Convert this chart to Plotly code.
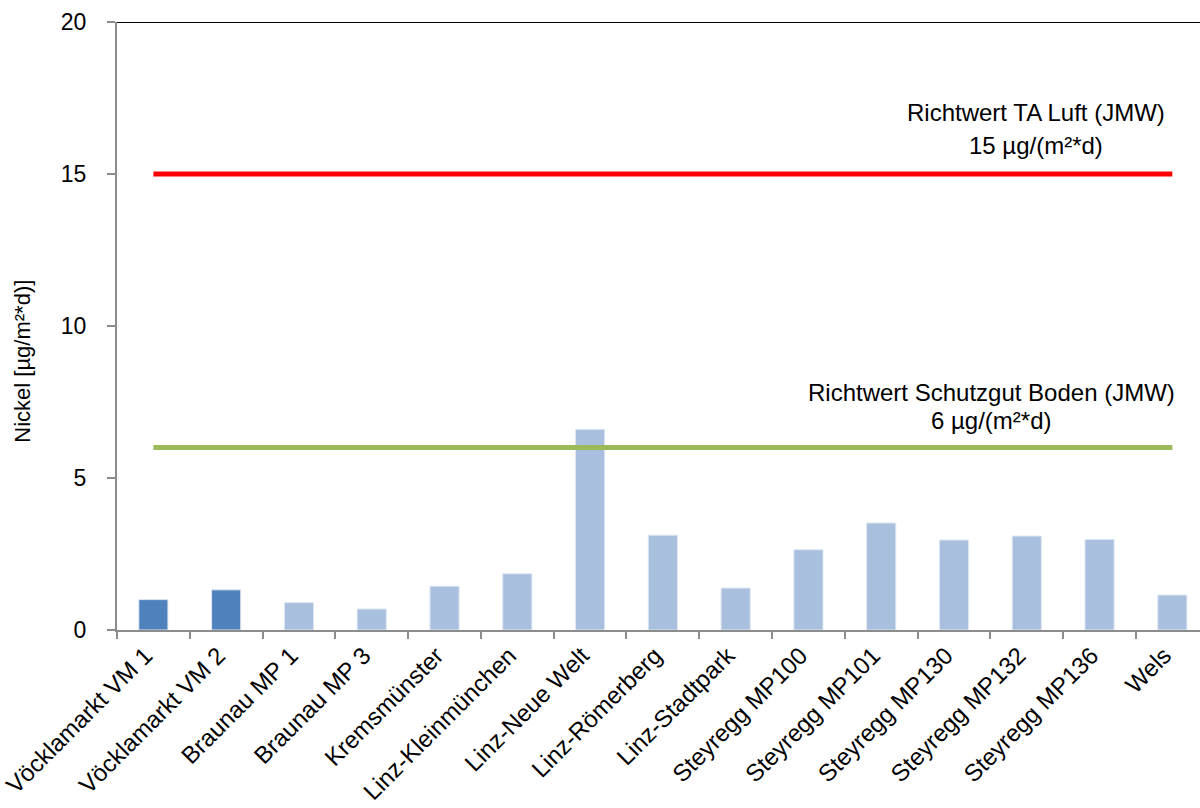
import plotly.graph_objects as go

# Messstellen (Kategorien) und Nickel-Deposition
stations = [
    "Vöcklamarkt VM 1", "Vöcklamarkt VM 2", "Braunau MP 1", "Braunau MP 3",
    "Kremsmünster", "Linz-Kleinmünchen", "Linz-Neue Welt", "Linz-Römerberg",
    "Linz-Stadtpark", "Steyregg MP100", "Steyregg MP101", "Steyregg MP130",
    "Steyregg MP132", "Steyregg MP136", "Wels",
]
nickel = [1.00, 1.32, 0.90, 0.69, 1.44, 1.85, 6.60, 3.12,
          1.38, 2.64, 3.52, 2.96, 3.09, 2.98, 1.15]
highlighted = ["Vöcklamarkt VM 1", "Vöcklamarkt VM 2"]

# Richtwerte
limit_ta_luft = 15
limit_boden = 6

y_ticks = [0, 5, 10, 15, 20]

FONT = "Liberation Sans, Arial, sans-serif"
DARK_BLUE = "#4F81BD"
LIGHT_BLUE = "#A9BFDE"

bar_colors = [DARK_BLUE if s in highlighted else LIGHT_BLUE for s in stations]

fig = go.Figure()
fig.add_trace(go.Bar(
    x=stations, y=nickel, width=0.4,
    marker=dict(color=bar_colors, line=dict(color="#DDE6F2", width=1)),
    showlegend=False,
))

# Richtwert-Linien über alle Messstellen
fig.add_trace(go.Scatter(
    x=[stations[0], stations[-1]], y=[limit_ta_luft, limit_ta_luft],
    mode="lines", line=dict(color="#FF0000", width=5), showlegend=False,
))
fig.add_trace(go.Scatter(
    x=[stations[0], stations[-1]], y=[limit_boden, limit_boden],
    mode="lines", line=dict(color="#9BBB59", width=5), showlegend=False,
))

label_font = dict(family=FONT, size=24, color="#000000")
px_per_unit = 608.5 / 20

def ann(text, xpix, ypix):
    fig.add_annotation(
        text=text, xref="paper", yref="y",
        x=(xpix - 117) / 1083, y=(630.5 - ypix) / px_per_unit,
        xanchor="center", yanchor="middle", showarrow=False, font=label_font,
    )

ann("Richtwert TA Luft (JMW)", 1036, 113)
ann(f"{limit_ta_luft} µg/(m²*d)", 1036, 146)
ann("Richtwert Schutzgut Boden (JMW)", 991, 393)
ann(f"{limit_boden} µg/(m²*d)", 992, 421)

# Achsentitel
fig.add_annotation(
    text="Nickel [µg/m²*d)]", xref="paper", yref="paper",
    x=(23 - 117) / 1083, y=(630.5 - 362) / 608.5,
    xanchor="center", yanchor="middle", textangle=-90, showarrow=False,
    font=dict(family=FONT, size=22, color="#000000"),
)

# obere Begrenzung
fig.add_shape(type="line", xref="paper", yref="y", x0=0, x1=1, y0=20, y1=20,
              line=dict(color="#000000", width=2))

fig.update_layout(
    width=1200, height=808,
    margin=dict(l=117, r=0, t=22, b=178),
    paper_bgcolor="white", plot_bgcolor="white",
    bargap=0.6,
    font=dict(family=FONT, size=22, color="#000000"),
    xaxis=dict(
        type="category", range=[-0.5, 14.38],
        showline=True, linecolor="#8C8C8C", linewidth=2,
        ticks="outside", tickson="boundaries", ticklen=7, tickwidth=2,
        tickcolor="#8C8C8C", tickangle=-45, showgrid=False,
        ticklabelshift=-8,
        tickfont=dict(family=FONT, size=24, color="#000000"),
    ),
    yaxis=dict(
        range=[0, 20], tickvals=y_ticks, showline=True, linecolor="#8C8C8C",
        linewidth=2, ticks="outside", ticklen=8, tickwidth=2,
        tickcolor="#8C8C8C", showgrid=False, zeroline=False,
        ticklabelstandoff=16,
        tickfont=dict(family=FONT, size=23, color="#000000"),
    ),
)

fig.write_html("out.html")
